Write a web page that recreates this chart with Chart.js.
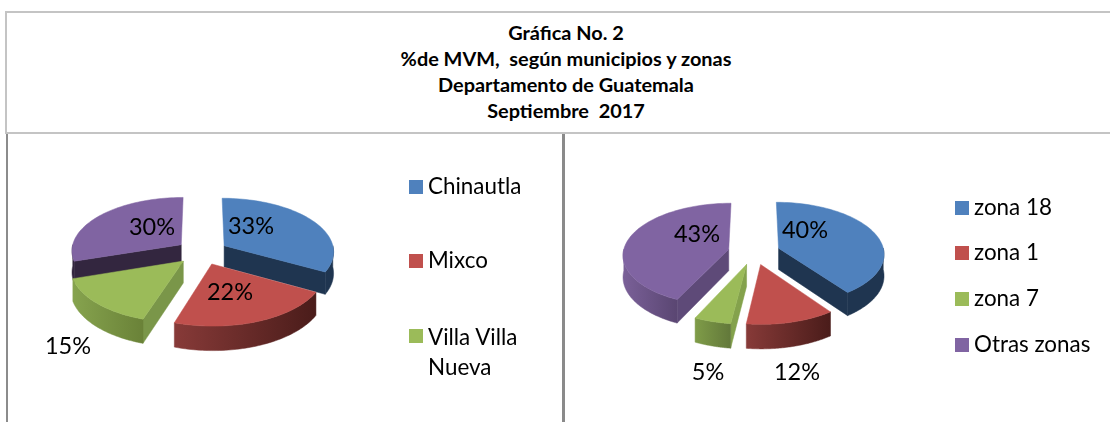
<!DOCTYPE html>
<html><head><meta charset="utf-8">
<script src="https://cdn.jsdelivr.net/npm/chart.js@4"></script>
<style>
html,body{margin:0;padding:0;background:#fff;width:1110px;height:422px;overflow:hidden;font-family:Lato,sans-serif;color:#000}
.line{position:absolute;background:#c4c4c4}
.title{position:absolute;left:0;width:1132px;top:20px;text-align:center;font-weight:700;font-size:19.9px;line-height:25.9px}
canvas{position:absolute}
.lg{position:absolute;font-size:22.4px;line-height:26px;white-space:nowrap}
.lg i{position:absolute;left:-19px;top:7px;width:14px;height:14px}
</style></head><body>
<div class="line" style="left:5px;top:11px;width:1105px;height:2px"></div>
<div class="line" style="left:5px;top:132px;width:1105px;height:2px"></div>
<div class="line" style="left:5px;top:11px;width:2px;height:122px"></div>
<div class="line" style="left:6px;top:134px;width:2px;height:288px;background:#8c8c8c"></div>
<div class="line" style="left:562px;top:134px;width:3px;height:288px;background:#8a8a8a"></div>
<div class="title" id="title"></div>
<canvas id="c1" width="554" height="288" style="left:8px;top:134px;width:554px;height:288px"></canvas>
<canvas id="c2" width="544" height="288" style="left:566px;top:134px;width:544px;height:288px"></canvas>
<div id="legends"></div>
<script>
const titleLines = ['Gráfica No. 2','%de MVM,  según municipios y zonas','Departamento de Guatemala','Septiembre  2017'];
const categoriesA = ['Chinautla','Mixco','Villa Villa\nNueva','Otros'];
const valuesA = [33,22,15,30];
const categoriesB = ['zona 18','zona 1','zona 7','Otras zonas'];
const valuesB = [40,12,5,43];
const colors = ['#4F81BD','#C0504D','#9BBB59','#8064A2'];

function project(a,u,v,drop){
  const p=0.10,k=0.485,w=1/(1-p*v);
  return [a.x+a.outerRadius*u*w, a.y+(a.outerRadius*k*v+(drop||0))*w];
}
const pie3d={
  id:'pie3d',
  beforeDatasetDraw(chart){
    const o=chart.options.plugins.pie3d, ctx=chart.ctx;
    const arcs=chart.getDatasetMeta(0).data;
    const D=o.depth;
    const items=arcs.map((a,i)=>{
      const off=a.options.offset/a.outerRadius;
      const mid=(a.startAngle+a.endAngle)/2;
      return {a,i,ox:Math.cos(mid)*off,oy:Math.sin(mid)*off,mid};
    }).sort((s,t)=>s.oy-t.oy);
    for(const s of items){
      const {a,i,ox,oy}=s;
      const pt=(ang,r,drop)=>project(a,ox+Math.cos(ang)*r,oy+Math.sin(ang)*r,drop);
      const poly=(pts,fill)=>{ctx.beginPath();pts.forEach((q,n)=>n?ctx.lineTo(q[0],q[1]):ctx.moveTo(q[0],q[1]));ctx.closePath();ctx.fillStyle=fill;ctx.fill();ctx.strokeStyle=fill;ctx.lineWidth=0.5;ctx.stroke();};
      const st=a.startAngle,en=a.endAngle,N=60;
      // radial end faces
      const faces=[[st,Math.sin(st-Math.PI/2)],[en,Math.sin(en+Math.PI/2)]];
      for(const [ang,nv] of faces){
        if(nv>0) poly([pt(ang,0),pt(ang,1),pt(ang,1,D),pt(ang,0,D)],o.faces[i]);
      }
      // outer wall, only the part that faces the viewer
      const lo=Math.max(st,0),hi=Math.min(en,Math.PI);
      if(hi>lo){
        const topE=[],botE=[];
        for(let n=0;n<=N;n++){const t=lo+(hi-lo)*n/N;topE.push(pt(t,1));botE.push(pt(t,1,D));}
        const wall=topE.concat(botE.reverse());
        const xs=wall.map(q=>q[0]);
        const g=ctx.createLinearGradient(Math.min(...xs),0,Math.max(...xs),0);
        g.addColorStop(0,o.walls[i][0]);g.addColorStop(1,o.walls[i][1]);
        poly(wall,g);
      }
      // top face
      const top=[pt(st,0)];
      for(let n=0;n<=N;n++)top.push(pt(st+(en-st)*n/N,1));
      poly(top,a.options.backgroundColor);
    }
    ctx.fillStyle='#000';ctx.font=o.labelFont;ctx.textAlign='center';ctx.textBaseline='middle';
    chart.data.datasets[0].data.forEach((v,i)=>ctx.fillText(v+'%',o.labelAt[i][0],o.labelAt[i][1]));
    return false;
  }
};
function make(id,cats,vals,radius,pad,opts){
  new Chart(document.getElementById(id),{
    type:'pie',
    data:{labels:cats,datasets:[{data:vals,backgroundColor:colors,offset:26,borderWidth:0}]},
    options:{responsive:false,animation:false,radius:radius,layout:{padding:pad},
      plugins:{legend:{display:false},tooltip:{enabled:false},pie3d:opts}},
    plugins:[pie3d]
  });
}
make('c1',categoriesA,valuesA,110,{left:0,top:0,right:166,bottom:52},{
  depth:21.5,labelFont:'23.5px Lato',
  labelAt:[[243,92],[222,158],[60,212],[144,93]],
  walls:[['#1F3550','#1F3550'],['#873A38','#4A1C1A'],['#86A34E','#6A8238'],['#33263F','#33263F']],
  faces:['#1F3550','#4A1C1A','#7A9649','#33263F']
});
make('c2',categoriesB,valuesB,105.5,{left:0,top:0,right:168,bottom:52},{
  depth:21.5,labelFont:'23.5px Lato',
  labelAt:[[239,96],[231,238],[142,238],[131,100]],
  walls:[['#1F3550','#1F3550'],['#873A38','#4A1C1A'],['#7F9C48','#62783A'],['#7A6098','#5A4672']],
  faces:['#1F3550','#4A1C1A','#84A24C','#5E4A78']
});
document.getElementById('title').innerHTML=titleLines.join('<br>').replace(/  /g,'&nbsp; ');
const legends=[
 {cats:categoriesA.slice(0,3),x:428,ys:[173,247,322]},
 {cats:categoriesB,x:974,ys:[194,239,285,331]}
];
const host=document.getElementById('legends');
legends.forEach(l=>l.cats.forEach((c,i)=>{
  const d=document.createElement('div');d.className='lg';
  d.style.left=l.x+'px';d.style.top=l.ys[i]+'px';
  const m=document.createElement('i');m.style.background=colors[i];d.appendChild(m);
  c.split('\n').forEach((t,n)=>{if(n)d.appendChild(document.createElement('br'));d.appendChild(document.createTextNode(t));});
  d.style.lineHeight=(c.includes('\n')?'29.5px':'26px');
  host.appendChild(d);
}));
</script>
</body></html>
